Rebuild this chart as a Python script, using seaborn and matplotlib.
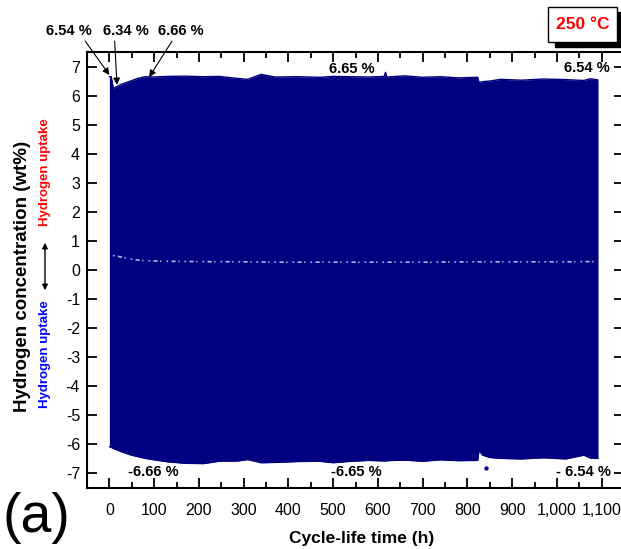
import matplotlib
matplotlib.use("Agg")
import matplotlib.pyplot as plt
import matplotlib.ticker as mticker
from matplotlib.patches import Rectangle, FancyArrowPatch
import seaborn as sns

# ── envelope of the cycling curve ──
env_t = [0, 4, 9, 15, 27, 47, 63, 80, 100, 130, 170, 210, 245, 287, 309,
         339, 370, 420, 470, 500, 540, 580, 614, 617, 620, 660, 700, 740,
         780, 823, 826, 834, 850, 874, 920, 970, 1020, 1060, 1075, 1092]
env_upper = [6.65, 6.65, 6.25, 6.30, 6.39, 6.50, 6.59, 6.65, 6.64, 6.66,
             6.67, 6.65, 6.66, 6.59, 6.56, 6.73, 6.64, 6.65, 6.63, 6.66,
             6.65, 6.64, 6.66, 6.80, 6.64, 6.68, 6.63, 6.65, 6.61, 6.63,
             6.45, 6.48, 6.50, 6.56, 6.53, 6.57, 6.55, 6.52, 6.58, 6.54]
env_lower = [-6.08, -6.10, -6.14, -6.18, -6.25, -6.36, -6.42, -6.48, -6.53,
             -6.60, -6.65, -6.66, -6.58, -6.57, -6.52, -6.63, -6.62, -6.59,
             -6.58, -6.63, -6.58, -6.55, -6.57, -6.57, -6.56, -6.54, -6.58,
             -6.53, -6.56, -6.55, -6.20, -6.37, -6.45, -6.48, -6.50, -6.46,
             -6.50, -6.37, -6.47, -6.48]

# faint gap line near 0.3 wt%
gap_t = [8, 25, 45, 70, 120, 200, 300, 400, 500, 600, 700, 800, 900, 1000, 1090]
gap_y = [0.50, 0.45, 0.38, 0.33, 0.30, 0.29, 0.28, 0.27, 0.27, 0.27, 0.27, 0.28, 0.28, 0.28, 0.29]

# outlier near 840 h
spike_t = [841, 841]
spike_y = [-6.45, -6.80]

# annotations with arrows: text, text x, text y, tip x, tip y, arrow start
top_labels = [("6.54 %", -90, 8.23, 0, 6.71, 0.8),
              ("6.34 %", 37, 8.23, 17, 6.37, 0.25),
              ("6.66 %", 160, 8.23, 89, 6.64, 0.35)]
inner_labels = [("6.65 %", 541, 6.92), ("6.54 %", 1066, 6.94),
                ("-6.66 %", 99, -6.96), ("-6.65 %", 551, -6.96),
                ("- 6.54 %", 1059, -6.96)]

x_ticks = list(range(0, 1101, 100))
y_ticks = list(range(-7, 8))

sns.set_style("ticks")
plt.rcParams["font.family"] = ["Liberation Sans", "DejaVu Sans"]
plt.rcParams["axes.unicode_minus"] = False
for k in ["text.color", "axes.edgecolor", "xtick.color", "ytick.color",
          "xtick.labelcolor", "ytick.labelcolor"]:
    plt.rcParams[k] = "black"

navy = "#000080"
fig = plt.figure(figsize=(6.21, 5.49), dpi=100)
ax = fig.add_axes([87 / 621, 1 - 488 / 549, 537 / 621, 436 / 549])

ax.fill_between(env_t, env_lower, env_upper, color=navy, lw=0)
sns.lineplot(x=env_t, y=env_upper, ax=ax, color=navy, lw=1)
sns.lineplot(x=env_t, y=env_lower, ax=ax, color=navy, lw=1)
sns.lineplot(x=gap_t, y=gap_y, ax=ax, color="#b4b4e0", lw=1.2,
             linestyle=(0, (1, 2, 2.5, 1.5, 0.8, 3)))
sns.lineplot(x=spike_t, y=spike_y, ax=ax, color="#9a9ad8", lw=0.8)
sns.scatterplot(x=spike_t[1:], y=spike_y[1:], ax=ax, color=navy, s=8,
                edgecolor=navy)

ax.set_xlim(-50, 1150)
ax.set_ylim(-7.5, 7.5)
ax.set_xticks(x_ticks)
ax.xaxis.set_minor_locator(mticker.MultipleLocator(50))
ax.xaxis.set_major_formatter(mticker.FuncFormatter(lambda v, p: f"{int(v):,}"))
ax.set_yticks(y_ticks)
ax.tick_params(which="both", direction="in", top=True, right=True,
               width=1.3, labelsize=11.5)
ax.tick_params(which="major", length=7)
ax.tick_params(which="minor", length=4)
ax.tick_params(axis="x", pad=11)
ax.tick_params(axis="y", pad=5)
for s in ax.spines.values():
    s.set_linewidth(1.5)
ax.set_xlabel("")
ax.set_ylabel("")

for txt, tx, ty, px, py, rp in top_labels:
    ax.annotate(txt, xy=(px, py), xytext=(tx, ty), ha="center", va="center",
                fontsize=10.5, fontweight="bold", annotation_clip=False,
                arrowprops=dict(arrowstyle="-|>", color="black", lw=0.8,
                                relpos=(rp, 0), shrinkA=0, shrinkB=0,
                                mutation_scale=10))
for txt, tx, ty in inner_labels:
    ax.text(tx, ty, txt, ha="center", va="center", fontsize=10.5,
            fontweight="bold")

# axis titles
fig.text(362 / 621, 1 - 538 / 549, "Cycle-life time (h)", ha="center",
         va="center", fontsize=12.5, fontweight="bold")
fig.text(23 / 621, 1 - 276 / 549, "Hydrogen concentration (wt%)", rotation=90,
         ha="center", va="center", fontsize=13.5, fontweight="bold")
fig.text(45 / 621, 1 - 172 / 549, "Hydrogen uptake", rotation=90, color="red",
         ha="center", va="center", fontsize=9.5, fontweight="bold")
fig.text(45 / 621, 1 - 354 / 549, "Hydrogen uptake", rotation=90, color="blue",
         ha="center", va="center", fontsize=9.5, fontweight="bold")
fig.add_artist(FancyArrowPatch(
    (45 / 621, 1 - 293 / 549), (45 / 621, 1 - 240 / 549),
    transform=fig.transFigure, arrowstyle="<|-|>", mutation_scale=8,
    color="black", lw=1))

# temperature box with shadow
fig.add_artist(Rectangle((555 / 621, 1 - 47 / 549), 68 / 621, 35 / 549,
                         transform=fig.transFigure, facecolor="black",
                         edgecolor="black"))
fig.add_artist(Rectangle((548 / 621, 1 - 42 / 549), 69 / 621, 35 / 549,
                         transform=fig.transFigure, facecolor="white",
                         edgecolor="black", lw=1))
fig.text(582.5 / 621, 1 - 24.5 / 549, "250 °C", color="red", ha="center",
         va="center", fontsize=12.5, fontweight="bold")

fig.text(2 / 621, 1 - 518 / 549, "(a)", fontsize=40, ha="left", va="center")

fig.savefig("out.png", dpi=100)
